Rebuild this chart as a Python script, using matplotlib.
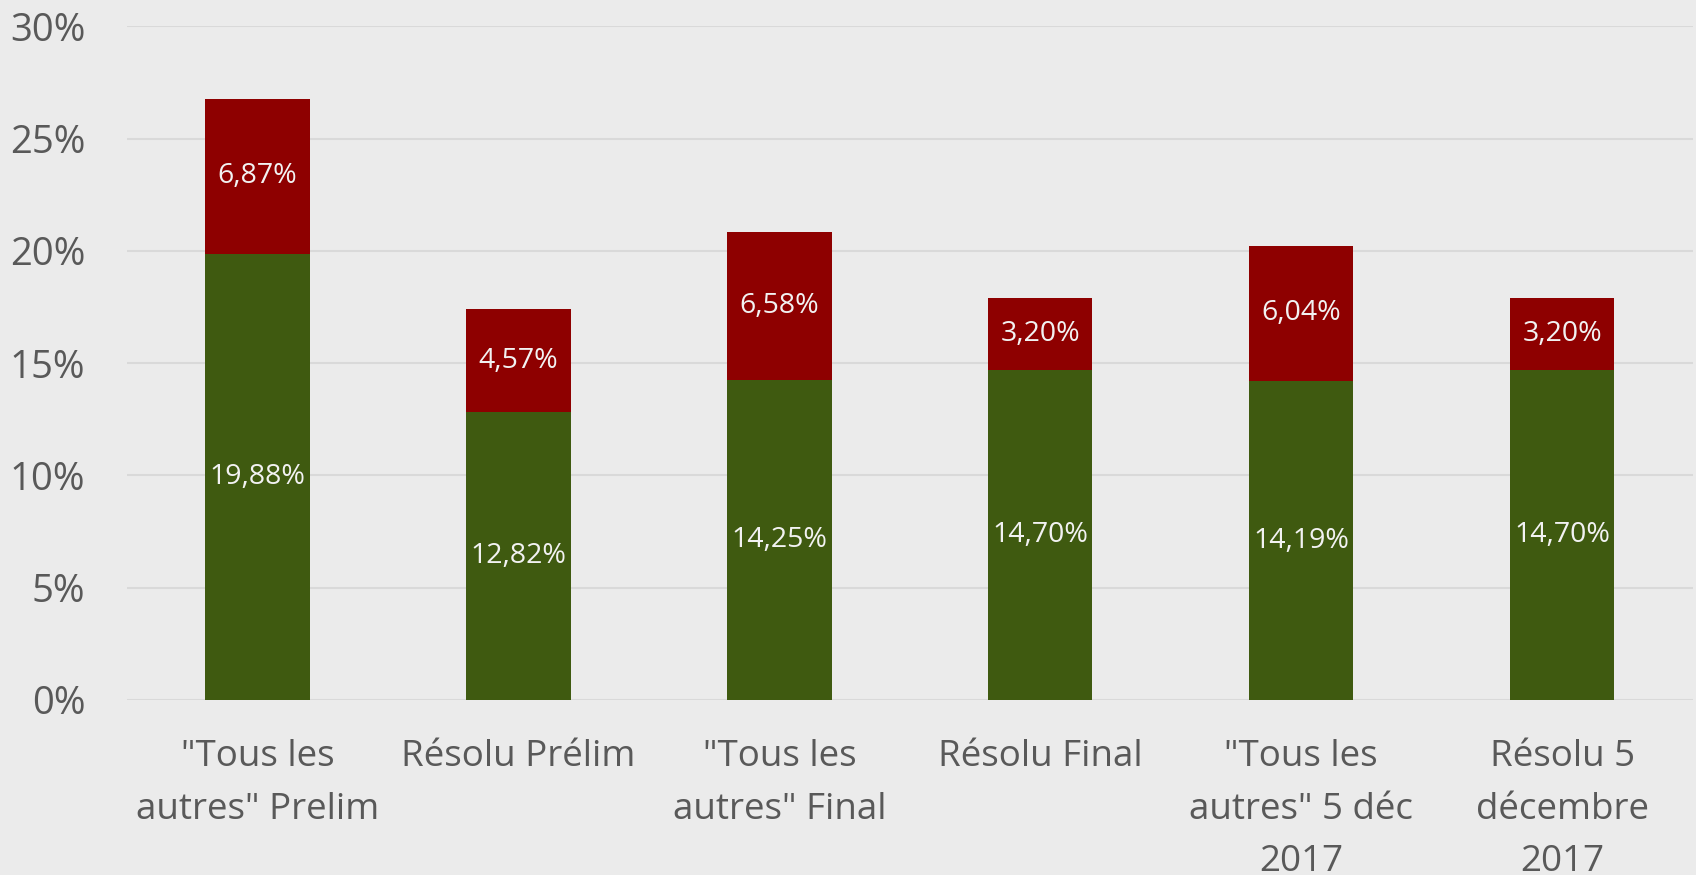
import matplotlib
matplotlib.use("Agg")
import matplotlib.pyplot as plt
from matplotlib.ticker import FuncFormatter
import numpy as np

categories = ['"Tous les\nautres" Prelim', 'Résolu Prélim', '"Tous les\nautres" Final',
              'Résolu Final', '"Tous les\nautres" 5 déc\n2017', 'Résolu 5\ndécembre\n2017']
green_vals = [19.88, 12.82, 14.25, 14.70, 14.19, 14.70]
red_vals = [6.87, 4.57, 6.58, 3.20, 6.04, 3.20]
yticks = [0, 5, 10, 15, 20, 25, 30]

plt.rcParams['font.family'] = ['Open Sans', 'DejaVu Sans']
BG = '#EBEBEB'
GREEN = '#3F5A10'
RED = '#8E0000'
TXT = '#595959'

fig = plt.figure(figsize=(16.96, 8.75), dpi=100, facecolor=BG)
ax = fig.add_axes([0.0749, 0.2, 0.9231, 0.770])
ax.set_facecolor(BG)

x = np.arange(len(categories))
w = 0.40
ax.bar(x, green_vals, w, color=GREEN, zorder=3)
ax.bar(x, red_vals, w, bottom=green_vals, color=RED, zorder=3)

def fmt(v):
    return f"{v:.2f}".replace('.', ',') + '%'

for i in range(len(x)):
    ax.text(x[i], green_vals[i] / 2, fmt(green_vals[i]), ha='center', va='center',
            color='#F2F2F2', fontsize=20.5, zorder=4)
    ax.text(x[i], green_vals[i] + red_vals[i] / 2, fmt(red_vals[i]), ha='center', va='center',
            color='#F2F2F2', fontsize=20.5, zorder=4)

ax.set_xlim(-0.5, len(categories) - 0.5)
ax.set_ylim(0, 30)
ax.set_yticks(yticks)
ax.yaxis.set_major_formatter(FuncFormatter(lambda v, p: f"{int(v)}%"))
ax.grid(axis='y', color='#D9D9D9', linewidth=1.5, zorder=0)
ax.set_axisbelow(True)
for s in ax.spines.values():
    s.set_visible(False)
ax.tick_params(axis='y', length=0, pad=30, labelsize=27.5, labelcolor=TXT)
ax.tick_params(axis='x', length=0, pad=28, labelsize=26.5, labelcolor=TXT)
ax.set_xticks(x)
ax.set_xticklabels(categories, linespacing=1.62, va='top')

fig.savefig('out.png', dpi=100, facecolor=BG)
